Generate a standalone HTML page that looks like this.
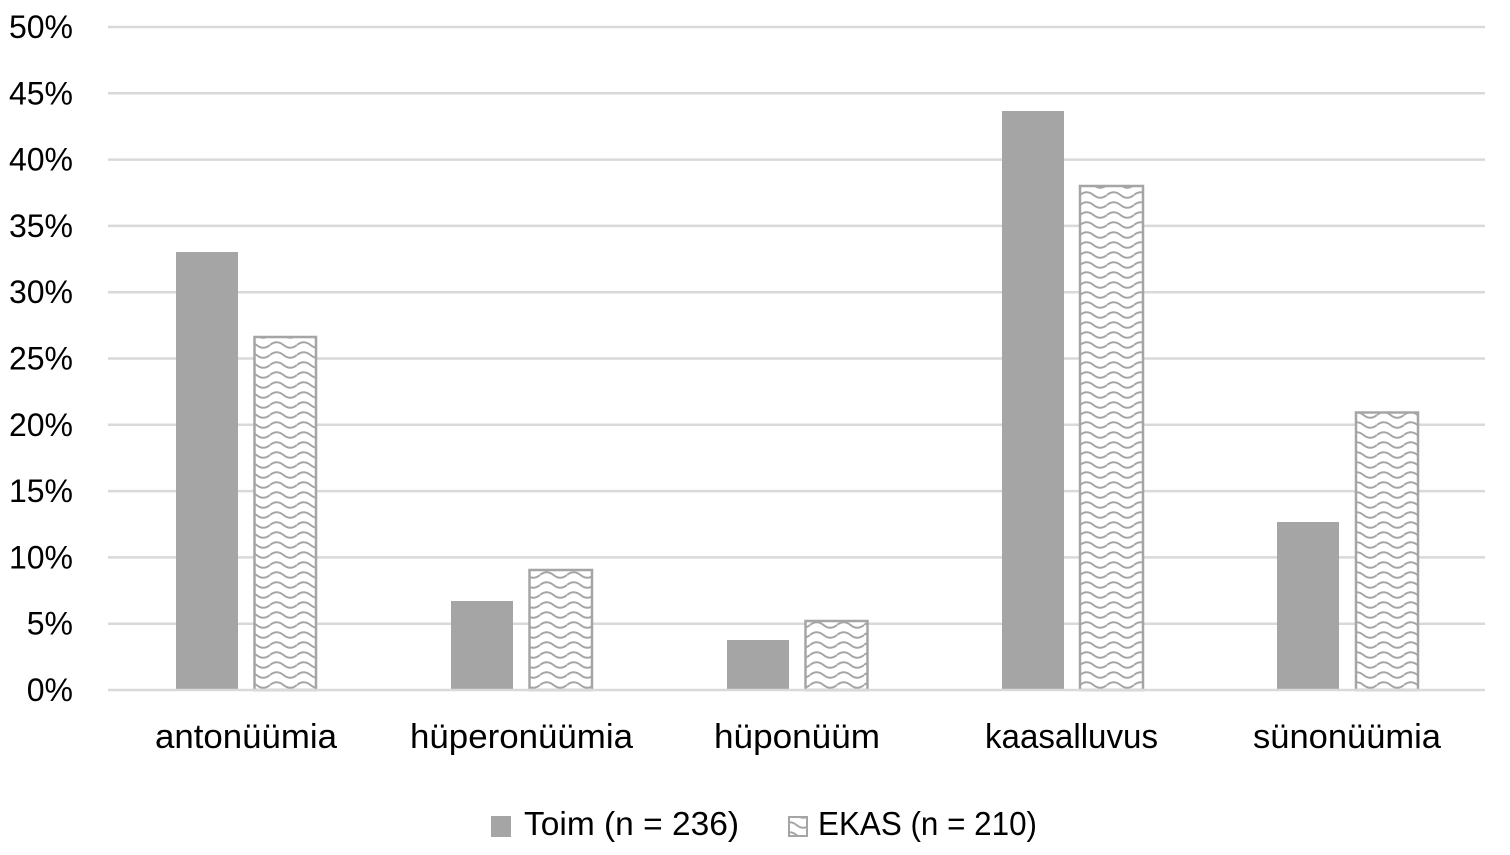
<!DOCTYPE html>
<html>
<head>
<meta charset="utf-8">
<style>
  html, body { margin: 0; padding: 0; background: #ffffff; }
  svg { display: block; }
  text { font-family: "Liberation Sans", "DejaVu Sans", sans-serif; fill: #000; }
</style>
</head>
<body>
<svg width="1510" height="855" viewBox="0 0 1510 855" xmlns="http://www.w3.org/2000/svg">
  <defs>
    <pattern id="wave" patternUnits="userSpaceOnUse" width="27" height="10" x="0" y="0">
      <rect width="27" height="10" fill="#ffffff"/>
      <path d="M0,5 Q6.75,-0.5 13.5,5 T27,5" fill="none" stroke="#a5a5a5" stroke-width="2"/>
    </pattern>
  </defs>
  <rect width="1510" height="855" fill="#ffffff"/>

  <!-- gridlines -->
  <g stroke="#d9d9d9" stroke-width="2.5">
    <line x1="108" x2="1485" y1="27" y2="27"/>
    <line x1="108" x2="1485" y1="93.3" y2="93.3"/>
    <line x1="108" x2="1485" y1="159.6" y2="159.6"/>
    <line x1="108" x2="1485" y1="225.9" y2="225.9"/>
    <line x1="108" x2="1485" y1="292.2" y2="292.2"/>
    <line x1="108" x2="1485" y1="358.5" y2="358.5"/>
    <line x1="108" x2="1485" y1="424.8" y2="424.8"/>
    <line x1="108" x2="1485" y1="491.1" y2="491.1"/>
    <line x1="108" x2="1485" y1="557.4" y2="557.4"/>
    <line x1="108" x2="1485" y1="623.7" y2="623.7"/>
  </g>

  <!-- y labels -->
  <g font-size="32" text-anchor="end">
    <text x="73" y="38">50%</text>
    <text x="73" y="104.3">45%</text>
    <text x="73" y="170.6">40%</text>
    <text x="73" y="236.9">35%</text>
    <text x="73" y="303.2">30%</text>
    <text x="73" y="369.5">25%</text>
    <text x="73" y="435.8">20%</text>
    <text x="73" y="502.1">15%</text>
    <text x="73" y="568.4">10%</text>
    <text x="73" y="634.7">5%</text>
    <text x="73" y="701">0%</text>
  </g>

  <!-- Toim bars -->
  <g fill="#a5a5a5">
    <rect x="176" y="252" width="62" height="438"/>
    <rect x="451" y="601" width="62" height="89"/>
    <rect x="727" y="640" width="62" height="50"/>
    <rect x="1002" y="111" width="62" height="579"/>
    <rect x="1277" y="522" width="62" height="168"/>
  </g>

  <!-- EKAS bars -->
  <g fill="url(#wave)" stroke="#a5a5a5" stroke-width="2.5">
    <rect x="254.5" y="337" width="61.5" height="353"/>
    <rect x="529.5" y="570" width="62.5" height="120"/>
    <rect x="805.5" y="621" width="62" height="69"/>
    <rect x="1080" y="186" width="63" height="504"/>
    <rect x="1356" y="412.5" width="62" height="277.5"/>
  </g>

  <!-- axis line -->
  <line x1="108" x2="1485" y1="690" y2="690" stroke="#d9d9d9" stroke-width="2.5"/>

  <!-- category labels -->
  <g font-size="34">
    <text x="155" y="748" textLength="182" lengthAdjust="spacingAndGlyphs">antonüümia</text>
    <text x="410" y="748" textLength="223" lengthAdjust="spacingAndGlyphs">hüperonüümia</text>
    <text x="714" y="748" textLength="166" lengthAdjust="spacingAndGlyphs">hüponüüm</text>
    <text x="985" y="748" textLength="173" lengthAdjust="spacingAndGlyphs">kaasalluvus</text>
    <text x="1253" y="748" textLength="188" lengthAdjust="spacingAndGlyphs">sünonüümia</text>
  </g>

  <!-- legend -->
  <rect x="491" y="816" width="20" height="21" fill="#a5a5a5"/>
  <text x="524" y="835" font-size="33" textLength="215" lengthAdjust="spacingAndGlyphs">Toim (n = 236)</text>
  <rect x="789" y="817" width="18" height="19" fill="url(#wave)" stroke="#a5a5a5" stroke-width="2"/>
  <text x="818" y="835" font-size="33" textLength="219" lengthAdjust="spacingAndGlyphs">EKAS (n = 210)</text>
</svg>
</body>
</html>
